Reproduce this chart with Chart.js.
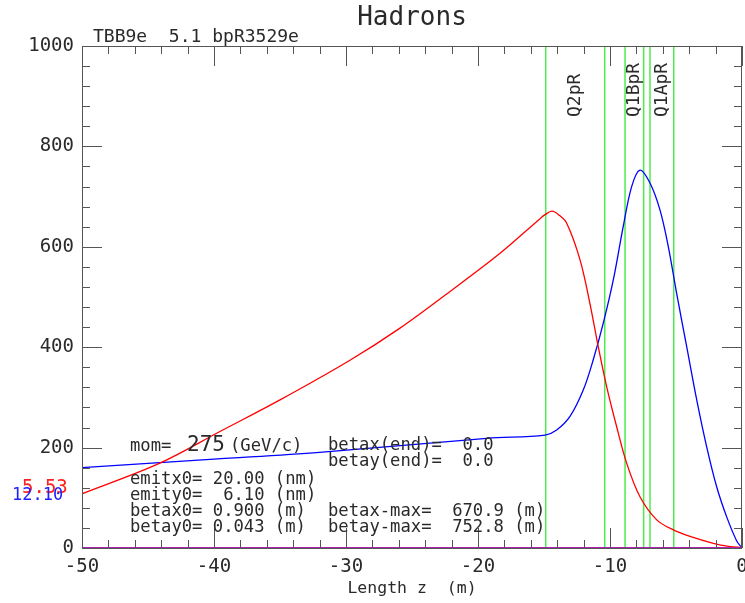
<!DOCTYPE html>
<html>
<head>
<meta charset="utf-8">
<title>Hadrons</title>
<script src="https://cdn.jsdelivr.net/npm/chart.js@4/dist/chart.umd.min.js"></script>
<style>
  html, body { margin: 0; padding: 0; background: #ffffff; }
  canvas { display: block; }
</style>
</head>
<body>
<canvas id="optics" width="745" height="603"></canvas>
<script>
// Beta functions of the hadron beam through the final-focus region (z in m, beta in m)
const zBetax = [-50, -44.1, -39.55, -35.0, -29.7, -25.91, -22.12, -18.33, -15.3, -14.92,
                -14.4, -13.9, -13.28, -12.27, -11.52, -10.89, -10.25, -9.5, -8.74, -7.73, -6.46,
                -5.2, -3.94, -2.17, -1.0, 0];
const betax  = [108, 169, 232, 295, 374, 438, 511, 587, 656, 664,
                670.9, 664, 647, 574, 487, 401, 321, 242, 169, 102, 56,
                36, 23, 9.3, 3.2, 0.9];

const zBetay = [-50, -40, -32, -19.34, -14.92, -14.04, -13.03, -12.02, -11.27, -10.51, -9.75,
                -9.0, -8.36, -7.73, -6.97, -6.21, -5.58, -4.95, -4.19, -3.43, -2.68, -1.92,
                -1.16, -0.4, 0];
const betay  = [160, 177, 190.6, 218.5, 225, 235, 262, 315, 375, 448, 534,
                640, 720, 752.8, 727, 673, 600, 507, 401, 295, 202, 122,
                62, 14, 0.043];

// Magnet apertures along the beam line
const elementNames = ['Q2pR', 'Q1BpR', 'Q1ApR'];
const elementStart = [-14.87, -8.86, -6.97];
const elementEnd   = [-10.40, -7.45, -5.17];

// Axis ticks
const xTicks = [-50, -40, -30, -20, -10, 0];
const yTicks = [0, 200, 400, 600, 800, 1000];

// Beam parameters printed on the plot
const momentum = 275;       // GeV/c
const emitx0 = 20.00;       // nm
const emity0 = 6.10;        // nm
const phaseLabels = ['5.53', '12.10'];

const MONO = '"DejaVu Sans Mono", monospace';
const INK = '#2a2a2a';
const FRAME = '#555555';

const pts = (xs, ys) => xs.map((x, i) => ({ x: x, y: ys[i] }));

const edgeSets = [];
elementStart.concat(elementEnd).forEach(z => {
  edgeSets.push({
    data: [{ x: z, y: 0 }, { x: z, y: 1000 }],
    borderColor: '#4deb4d', borderWidth: 1.5, pointRadius: 0, order: 5
  });
});

// Frame, inward ticks, element names and the parameter block
const decorations = {
  id: 'decorations',
  afterDatasetsDraw(chart) {
    const { ctx, chartArea: a, scales: { x, y } } = chart;
    ctx.save();

    // element names, rotated and centred on each magnet
    ctx.fillStyle = INK;
    ctx.font = '18px ' + MONO;
    ctx.textAlign = 'left';
    ctx.textBaseline = 'middle';
    elementNames.forEach((name, i) => {
      const cx = x.getPixelForValue((elementStart[i] + elementEnd[i]) / 2);
      ctx.save();
      ctx.translate(cx, 117);
      ctx.rotate(-Math.PI / 2);
      ctx.fillText(name, 0, 0);
      ctx.restore();
    });

    // frame
    ctx.strokeStyle = FRAME;
    ctx.lineWidth = 1;
    ctx.strokeRect(Math.round(a.left) + 0.5, Math.round(a.top) + 0.5,
                   Math.round(a.right - a.left) - 1, Math.round(a.bottom - a.top));

    // x ticks on bottom and top edges
    ctx.beginPath();
    for (let v = -50; v <= 0; v += 2) {
      const px = Math.round(x.getPixelForValue(v)) + 0.5;
      const len = (v % 10 === 0) ? 20 : 8;
      ctx.moveTo(px, a.bottom); ctx.lineTo(px, a.bottom - len);
      ctx.moveTo(px, a.top); ctx.lineTo(px, a.top + len);
    }
    // y ticks on left and right edges
    for (let v = 0; v <= 1000; v += 40) {
      const py = Math.round(y.getPixelForValue(v)) + 0.5;
      const len = (v % 200 === 0) ? 20 : 8;
      ctx.moveTo(a.left, py); ctx.lineTo(a.left + len, py);
      ctx.moveTo(a.right, py); ctx.lineTo(a.right - len, py);
    }
    ctx.stroke();

    // title and run tag
    ctx.textBaseline = 'middle';
    ctx.textAlign = 'center';
    ctx.font = '26px ' + MONO;
    ctx.fillText('Hadrons', (a.left + a.right) / 2, 18);
    ctx.textAlign = 'left';
    ctx.font = '18px ' + MONO;
    ctx.fillText('TBB9e  5.1 bpR3529e', 93, 37);

    // phase advance labels at the left edge
    ctx.font = '19px ' + MONO;
    ctx.fillStyle = '#ff2020';
    ctx.fillText(phaseLabels[0], 22, 488);
    ctx.font = '17px ' + MONO;
    ctx.fillStyle = '#2020ff';
    ctx.fillText(phaseLabels[1], 12, 496);

    // parameter block
    const bxMax = Math.max(...betax).toFixed(1);
    const byMax = Math.max(...betay).toFixed(1);
    const bx0 = betax[betax.length - 1].toFixed(3);
    const by0 = betay[betay.length - 1].toFixed(3);
    ctx.fillStyle = INK;
    ctx.font = '17.2px ' + MONO;
    ctx.fillText('mom=', 130, 447);
    ctx.font = '21px ' + MONO;
    ctx.fillText(String(momentum), 187, 446);
    ctx.font = '17.2px ' + MONO;
    ctx.fillText('(GeV/c)', 230, 447);
    ctx.fillText('betax(end)=  0.0', 328, 446);
    ctx.fillText('betay(end)=  0.0', 328, 462);
    ctx.fillText('emitx0= ' + emitx0.toFixed(2) + ' (nm)', 130, 480);
    ctx.fillText('emity0=  ' + emity0.toFixed(2) + ' (nm)', 130, 496);
    ctx.fillText('betax0= ' + bx0 + ' (m)', 130, 512);
    ctx.fillText('betax-max=  ' + bxMax + ' (m)', 328, 512);
    ctx.fillText('betay0= ' + by0 + ' (m)', 130, 528);
    ctx.fillText('betay-max=  ' + byMax + ' (m)', 328, 528);

    ctx.restore();
  }
};

new Chart(document.getElementById('optics'), {
  type: 'line',
  data: {
    datasets: [
      { data: [{ x: -50, y: 0 }, { x: 0, y: 0 }], borderColor: '#b020b0', borderWidth: 2.2,
        pointRadius: 0, order: 0 },
      { data: pts(zBetax, betax), borderColor: '#ff0000', borderWidth: 1.3, pointRadius: 0,
        tension: 0.35, order: 1 },
      { data: pts(zBetay, betay), borderColor: '#0000ff', borderWidth: 1.3, pointRadius: 0,
        tension: 0.35, order: 2 },
      ...edgeSets
    ]
  },
  options: {
    responsive: false,
    animation: false,
    parsing: false,
    layout: { padding: { top: 46, right: 3, left: 0, bottom: 0 } },
    plugins: { legend: { display: false }, tooltip: { enabled: false } },
    scales: {
      x: {
        type: 'linear', min: -50, max: 0,
        afterBuildTicks: s => { s.ticks = xTicks.map(v => ({ value: v })); },
        afterFit: s => { s.height = 55; s.paddingLeft = 0; s.paddingRight = 0; },
        grid: { display: false, drawTicks: false },
        border: { display: false },
        ticks: { font: { family: MONO, size: 19 }, color: INK, padding: 8,
                 maxRotation: 0, autoSkip: false, callback: v => String(v) },
        title: { display: true, text: 'Length z  (m)', color: INK,
                 font: { family: MONO, size: 16.5 }, padding: { top: 0, bottom: 4 } }
      },
      y: {
        type: 'linear', min: 0, max: 1000,
        afterBuildTicks: s => { s.ticks = yTicks.map(v => ({ value: v })); },
        afterFit: s => { s.width = 82; s.paddingTop = 0; s.paddingBottom = 0; },
        grid: { display: false, drawTicks: false },
        border: { display: false },
        ticks: { font: { family: MONO, size: 19 }, color: INK, padding: 8,
                 callback: v => String(v) }
      }
    }
  },
  plugins: [decorations]
});
</script>
</body>
</html>
